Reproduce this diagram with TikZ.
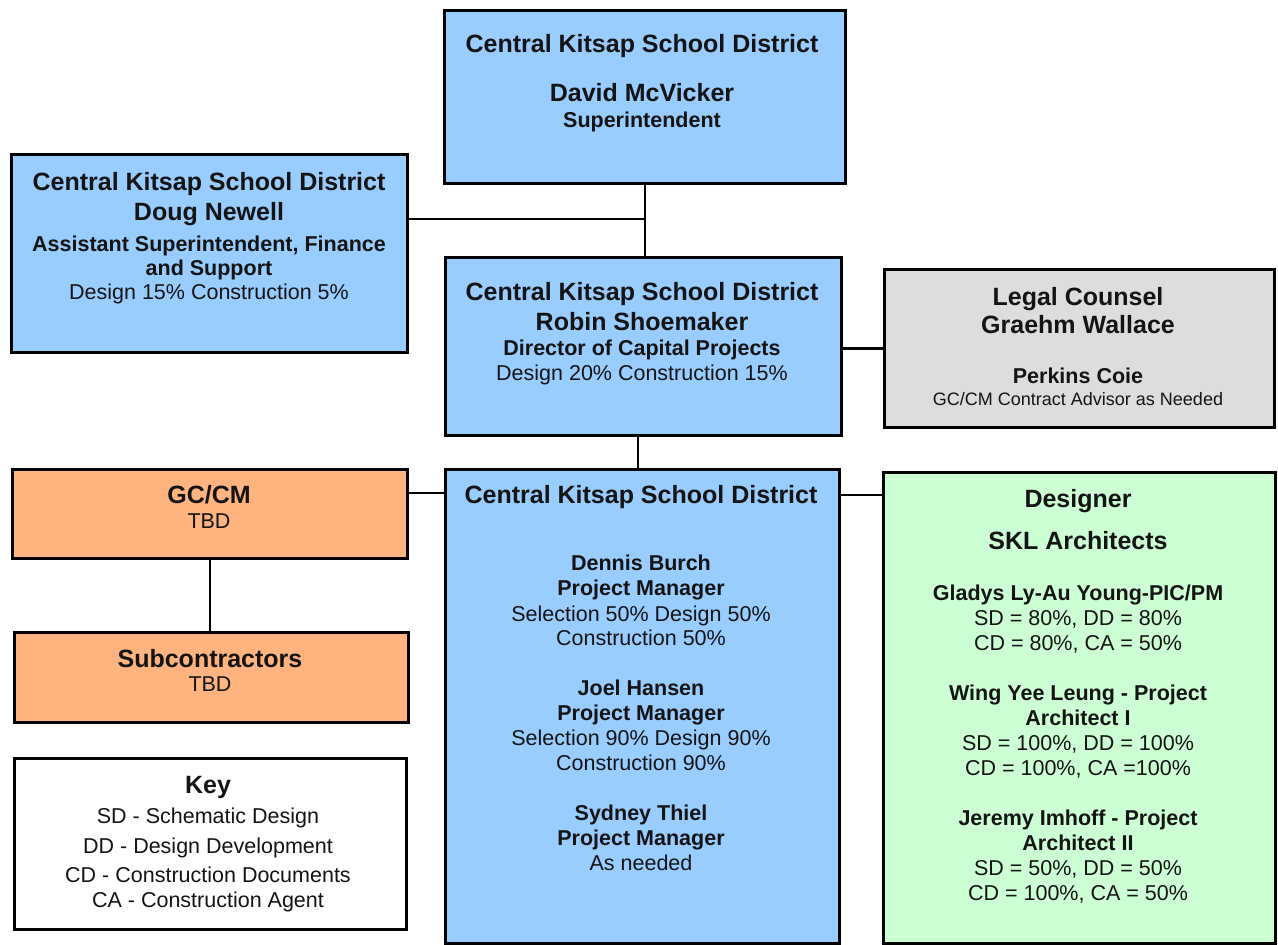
\documentclass[tikz,border=0pt]{standalone}
\usepackage{fontspec}
\setmainfont{Liberation Sans}
\definecolor{boxblue}{RGB}{153,204,255}
\definecolor{boxgray}{RGB}{221,221,221}
\definecolor{boxorange}{RGB}{255,180,128}
\definecolor{boxgreen}{RGB}{204,255,212}
\definecolor{boxwhite}{RGB}{255,255,255}
\definecolor{txt}{RGB}{20,20,20}
\tikzset{
  box/.style={draw=black, line width=2.6pt, anchor=north west, inner sep=0pt, rectangle},
  link/.style={draw=black, line width=2.6pt},
  tt/.style={anchor=base, inner sep=0pt, text=txt, font=\fontsize{25}{30}\selectfont\bfseries},
  bb/.style={anchor=base, inner sep=0pt, text=txt, font=\fontsize{21.5}{26}\selectfont\bfseries},
  rr/.style={anchor=base, inner sep=0pt, text=txt, font=\fontsize{21.5}{26}\selectfont},
  ss/.style={anchor=base, inner sep=0pt, text=txt, font=\fontsize{18}{22}\selectfont},
}
\begin{document}
\begin{tikzpicture}[x=1pt,y=-1pt]
\useasboundingbox (0,0) rectangle (1278,945);
% boxes
\node[box, fill=boxblue,   minimum width=401pt, minimum height=173pt] (top)      at (443,9)   {};
\node[box, fill=boxblue,   minimum width=396pt, minimum height=198pt] (doug)     at (10,153)  {};
\node[box, fill=boxblue,   minimum width=396pt, minimum height=178pt] (robin)    at (444,256) {};
\node[box, fill=boxgray,   minimum width=390pt, minimum height=158pt] (legal)    at (883,268) {};
\node[box, fill=boxorange, minimum width=395pt, minimum height=89pt]  (gccm)     at (11,468)  {};
\node[box, fill=boxorange, minimum width=394pt, minimum height=90pt]  (sub)      at (13,631)  {};
\node[box, fill=boxwhite,  minimum width=392pt, minimum height=171pt] (key)      at (13,757)  {};
\node[box, fill=boxblue,   minimum width=394pt, minimum height=474pt] (central)  at (444,468) {};
\node[box, fill=boxgreen,  minimum width=392pt, minimum height=471pt] (designer) at (882,471) {};
% connector helpers
\coordinate (ya) at (0,219);
\coordinate (yb) at (0,493);
\coordinate (yc) at (0,495);
\coordinate (xa) at (638,0);
\coordinate (j1) at (top.south |- ya);
% connectors
\draw[link] (top.south) -- (top.south |- robin.north);
\draw[link] (doug.east |- ya) -- (j1);
\draw[link] (robin.east |- legal.west) -- (legal.west);
\draw[link] (xa |- robin.south) -- (xa |- central.north);
\draw[link] (gccm.east |- yb) -- (central.west |- yb);
\draw[link] (central.east |- yc) -- (designer.west |- yc);
\draw[link] (gccm.south) -- (gccm.south |- sub.north);
% top box
\node[tt] (t1) at (642,52.5) {Central Kitsap School District};
\node[tt] (t2) at (642,101.5) {David McVicker};
\node[bb] (t3) at (642,127.5) {Superintendent};
% doug
\node[tt] (d1) at (209,190) {Central Kitsap School District};
\node[tt] (d2) at (209,220) {Doug Newell};
\node[bb] (d3) at (209,251) {Assistant Superintendent, Finance};
\node[bb] (d4) at (209,275) {and Support};
\node[rr] (d5) at (209,299) {Design 15\% Construction 5\%};
% robin
\node[tt] (r1) at (642,300) {Central Kitsap School District};
\node[tt] (r2) at (642,330) {Robin Shoemaker};
\node[bb] (r3) at (642,355) {Director of Capital Projects};
\node[rr] (r4) at (642,380) {Design 20\% Construction 15\%};
% legal
\node[tt] (l1) at (1078,305) {Legal Counsel};
\node[tt] (l2) at (1078,333) {Graehm Wallace};
\node[bb] (l3) at (1078,383) {Perkins Coie};
\node[ss] (l4) at (1078,405) {GC/CM Contract Advisor as Needed};
% gc/cm and subcontractors
\node[tt] (g1) at (209,503) {GC/CM};
\node[rr] (g2) at (209,528) {TBD};
\node[tt] (s1) at (210,667) {Subcontractors};
\node[rr] (s2) at (210,691) {TBD};
% key
\node[tt] (k1) at (208,793) {Key};
\node[rr] (k2) at (208,823) {SD - Schematic Design};
\node[rr] (k3) at (208,853) {DD - Design Development};
\node[rr] (k4) at (208,882) {CD - Construction Documents};
\node[rr] (k5) at (208,907) {CA - Construction Agent};
% central
\node[tt] (c0) at (641,503) {Central Kitsap School District};
\node[bb] (c1) at (641,570) {Dennis Burch};
\node[bb] (c2) at (641,595) {Project Manager};
\node[rr] (c3) at (641,621) {Selection 50\% Design 50\%};
\node[rr] (c4) at (641,645) {Construction 50\%};
\node[bb] (c5) at (641,695) {Joel Hansen};
\node[bb] (c6) at (641,720) {Project Manager};
\node[rr] (c7) at (641,745) {Selection 90\% Design 90\%};
\node[rr] (c8) at (641,770) {Construction 90\%};
\node[bb] (c9) at (641,820) {Sydney Thiel};
\node[bb] (c10) at (641,845) {Project Manager};
\node[rr] (c11) at (641,870) {As needed};
% designer
\node[tt] (e0) at (1078,507) {Designer};
\node[tt] (e1) at (1078,549) {SKL Architects};
\node[bb] (e2) at (1078,600) {Gladys Ly-Au Young-PIC/PM};
\node[rr] (e3) at (1078,625) {SD = 80\%, DD = 80\%};
\node[rr] (e4) at (1078,650) {CD = 80\%, CA = 50\%};
\node[bb] (e5) at (1078,700) {Wing Yee Leung - Project};
\node[bb] (e6) at (1078,725) {Architect I};
\node[rr] (e7) at (1078,750) {SD = 100\%, DD = 100\%};
\node[rr] (e8) at (1078,775) {CD = 100\%, CA =100\%};
\node[bb] (e9) at (1078,825) {Jeremy Imhoff - Project};
\node[bb] (e10) at (1078,850) {Architect II};
\node[rr] (e11) at (1078,875) {SD = 50\%, DD = 50\%};
\node[rr] (e12) at (1078,900) {CD = 100\%, CA = 50\%};
\end{tikzpicture}
\end{document}
